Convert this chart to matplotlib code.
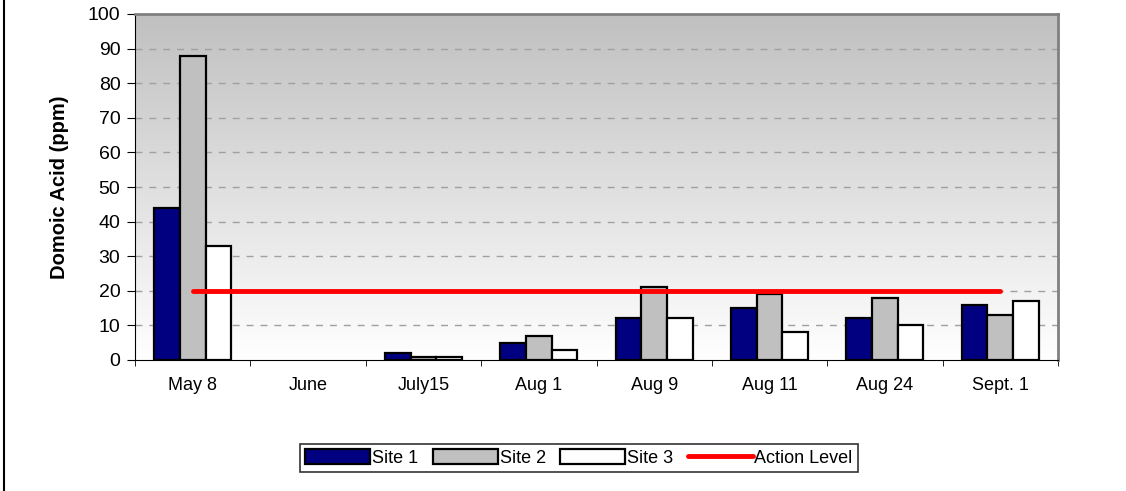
import numpy as np
import matplotlib.pyplot as plt
from matplotlib.lines import Line2D

plt.rcParams['font.family'] = ['Liberation Sans', 'DejaVu Sans']

dates = ["May 8", "June", "July15", "Aug 1", "Aug 9", "Aug 11", "Aug 24", "Sept. 1"]
site1 = [44, 0, 2, 5, 12, 15, 12, 16]
site2 = [88, 0, 1, 7, 21, 19, 18, 13]
site3 = [33, 0, 1, 3, 12, 8, 10, 17]
has_data = [True, False, True, True, True, True, True, True]
action_level = [20] * len(dates)

fig = plt.figure(figsize=(11.26, 4.91), dpi=100)
ax = fig.add_axes([135 / 1126, 1 - 360 / 491, 923 / 1126, 346 / 491])

n = len(dates)
x = np.arange(n)
w = 1 / 4.5

# white at the bottom fading to gray at the top
grad = np.linspace(255, 192, 256)[:, None] / 255.0
ax.imshow(np.dstack([grad, grad, grad]), extent=[-0.5, n - 0.5, 0, 100], origin='lower',
          aspect='auto', zorder=0, interpolation='bilinear')

for v in range(10, 100, 10):
    ax.axhline(v, color='#a0a0a0', lw=1, dashes=(5, 5), zorder=1)

series = [(site1, '#000080', 'Site 1'), (site2, '#c0c0c0', 'Site 2'), (site3, '#ffffff', 'Site 3')]
handles = []
for i, (vals, col, lab) in enumerate(series):
    xs = [xi + (i - 1) * w for xi, ok in zip(x, has_data) if ok]
    vs = [v for v, ok in zip(vals, has_data) if ok]
    b = ax.bar(xs, vs, width=w, color=col, edgecolor='black', linewidth=1.6, zorder=3, label=lab)
    handles.append(b)

ln, = ax.plot(x, action_level, color='#ff0000', lw=3.5, solid_capstyle='round', zorder=4,
              label='Action Level')
handles.append(ln)

ax.set_xlim(-0.5, n - 0.5)
ax.set_ylim(0, 100)
ax.set_yticks(range(0, 101, 10))
ax.set_xticks(x)
ax.set_xticklabels(dates, fontsize=13)
ax.set_xticks(np.arange(-0.5, n, 1), minor=True)
ax.tick_params(axis='x', which='major', length=0, pad=12)
ax.tick_params(axis='x', which='minor', length=4, direction='out', color='black')
ax.tick_params(axis='y', labelsize=14, length=5.5, direction='out', pad=5)
ax.set_ylabel("Domoic Acid (ppm)", fontsize=14.5, fontweight='bold')
ax.yaxis.set_label_coords(-0.0715, 0.5)

ax.spines['left'].set_color('black')
ax.spines['bottom'].set_color('black')
ax.spines['top'].set_color('#808080')
ax.spines['right'].set_color('#808080')
ax.spines['top'].set_linewidth(2)
ax.spines['right'].set_linewidth(2)

leg = fig.legend(handles, [h.get_label() for h in handles], loc='center',
                 bbox_to_anchor=(579 / 1126, 1 - 458 / 491),
                 ncol=4, fontsize=13, frameon=True, fancybox=False, edgecolor='black',
                 handlelength=3.6, handleheight=0.9, handletextpad=0.1, columnspacing=0.8,
                 borderpad=0.3, borderaxespad=0)
leg.get_frame().set_linewidth(1.2)

# chart frame edge on the left
fig.add_artist(Line2D([4 / 1126, 4 / 1126], [0, 1], color='black', lw=1.5, transform=fig.transFigure))

fig.savefig('out.png', dpi=100)
